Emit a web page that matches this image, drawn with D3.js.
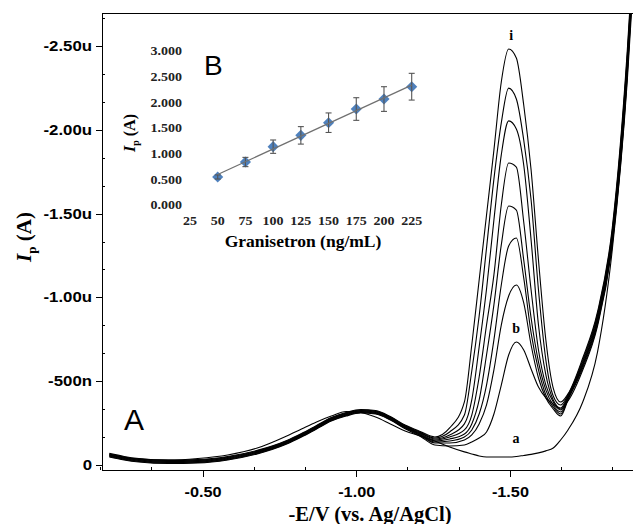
<!DOCTYPE html>
<html lang="en">
<head>
<meta charset="UTF-8" />
<title>DPV of granisetron</title>
<script src="https://d3js.org/d3.v7.min.js"></script>
<style>
    body { margin: 0; background: #fff; }
    .axis path, .axis line { fill: none; stroke: #000; shape-rendering: crispEdges; }
    .axis text { font-family: "Liberation Sans", Arial, sans-serif; font-weight: bold; font-size: 14px; fill: #000; }
    .curve { fill: none; stroke: #000; stroke-width: 1.1; }
    .serif { font-family: "Liberation Serif", "Times New Roman", serif; font-weight: bold; fill: #000; }
    .inset-tick { font-family: "Liberation Serif", "Times New Roman", serif; font-weight: bold; font-size: 12.5px; fill: #222; }
</style>
</head>
<body>
<script>
    // potential grid (V) and currents (uA) of voltammograms a..i
    var potentials = [-0.197, -0.245, -0.293, -0.389, -0.485, -0.582, -0.678, -0.774, -0.822, -0.871, -0.919, -0.967, -1.015, -1.063, -1.111, -1.159, -1.208,
        -1.256, -1.304, -1.352, -1.376, -1.400, -1.424, -1.448, -1.472, -1.496, -1.521, -1.545, -1.569, -1.593, -1.617, -1.641, -1.665, -1.689, -1.737, -1.785, -1.833, -1.882, -1.900];

    var currentA = [-0.060, -0.045, -0.036, -0.030, -0.039, -0.060, -0.101, -0.173, -0.215, -0.257, -0.292, -0.319, -0.313, -0.286, -0.245, -0.203, -0.173,
        -0.143, -0.107, -0.078, -0.066, -0.054, -0.048, -0.048, -0.048, -0.048, -0.051, -0.057, -0.063, -0.072, -0.084, -0.101, -0.149, -0.209, -0.376, -0.674, -1.283, -2.297, -2.834];
    var currentB = [-0.048, -0.030, -0.018, -0.009, -0.012, -0.030, -0.066, -0.125, -0.167, -0.215, -0.262, -0.292, -0.310, -0.304, -0.268, -0.216, -0.172,
        -0.119, -0.113, -0.119, -0.137, -0.161, -0.197, -0.304, -0.477, -0.656, -0.734, -0.686, -0.573, -0.465, -0.400, -0.364, -0.334, -0.382, -0.567, -0.829, -1.313, -2.327, -2.882];
    var currentC = [-0.051, -0.033, -0.021, -0.012, -0.015, -0.033, -0.069, -0.128, -0.170, -0.218, -0.265, -0.295, -0.313, -0.307, -0.271, -0.220, -0.177,
        -0.131, -0.131, -0.149, -0.179, -0.245, -0.358, -0.567, -0.835, -1.008, -1.074, -0.967, -0.716, -0.519, -0.400, -0.334, -0.292, -0.388, -0.579, -0.841, -1.325, -2.345, -2.894];
    var currentD = [-0.054, -0.036, -0.024, -0.015, -0.018, -0.036, -0.072, -0.131, -0.173, -0.221, -0.268, -0.298, -0.316, -0.310, -0.274, -0.223, -0.181,
        -0.137, -0.143, -0.167, -0.209, -0.304, -0.477, -0.746, -1.074, -1.307, -1.354, -1.116, -0.788, -0.567, -0.418, -0.346, -0.304, -0.394, -0.591, -0.853, -1.337, -2.357, -2.906];
    var currentE = [-0.057, -0.039, -0.027, -0.018, -0.021, -0.039, -0.075, -0.134, -0.176, -0.224, -0.271, -0.301, -0.319, -0.313, -0.277, -0.226, -0.185,
        -0.143, -0.155, -0.185, -0.245, -0.388, -0.656, -0.955, -1.313, -1.545, -1.521, -1.223, -0.877, -0.615, -0.447, -0.358, -0.316, -0.400, -0.597, -0.865, -1.348, -2.381, -2.924];
    var currentF = [-0.060, -0.042, -0.030, -0.021, -0.024, -0.042, -0.078, -0.137, -0.179, -0.227, -0.274, -0.304, -0.322, -0.316, -0.280, -0.229, -0.188,
        -0.149, -0.167, -0.209, -0.298, -0.525, -0.835, -1.134, -1.551, -1.802, -1.778, -1.450, -1.044, -0.686, -0.477, -0.376, -0.328, -0.406, -0.603, -0.877, -1.366, -2.405, -2.942];
    var currentG = [-0.063, -0.045, -0.033, -0.024, -0.027, -0.045, -0.081, -0.140, -0.182, -0.230, -0.277, -0.307, -0.325, -0.319, -0.283, -0.232, -0.192,
        -0.155, -0.179, -0.245, -0.388, -0.704, -1.050, -1.462, -1.850, -2.053, -2.005, -1.790, -1.342, -0.835, -0.537, -0.388, -0.340, -0.412, -0.615, -0.889, -1.384, -2.428, -2.953];
    var currentH = [-0.066, -0.048, -0.036, -0.027, -0.030, -0.048, -0.084, -0.143, -0.185, -0.233, -0.280, -0.310, -0.328, -0.322, -0.286, -0.235, -0.196,
        -0.161, -0.197, -0.298, -0.561, -0.889, -1.295, -1.706, -2.041, -2.249, -2.184, -1.939, -1.581, -1.044, -0.626, -0.412, -0.358, -0.418, -0.626, -0.901, -1.396, -2.446, -2.983];
    var currentI = [-0.069, -0.051, -0.039, -0.030, -0.033, -0.051, -0.087, -0.146, -0.188, -0.236, -0.283, -0.313, -0.331, -0.325, -0.289, -0.238, -0.200,
        -0.167, -0.221, -0.376, -0.716, -1.104, -1.492, -1.879, -2.285, -2.482, -2.428, -2.148, -1.760, -1.223, -0.746, -0.459, -0.376, -0.424, -0.638, -0.913, -1.414, -2.476, -3.013];

    var xTicks = [-0.5, -1.0, -1.5];
    var xTickLabels = ["-0.50", "-1.00", "-1.50"];
    var yTicks = [0, -0.5, -1.0, -1.5, -2.0, -2.5];
    var yTickLabels = ["0", "-500n", "-1.00u", "-1.50u", "-2.00u", "-2.50u"];

    // curve annotations: label, potential, current
    var curveNotes = [["i", -1.504, -2.533], ["b", -1.520, -0.787], ["a", -1.520, -0.133]];

    // inset B: calibration
    var concentrations = [50, 75, 100, 125, 150, 175, 200, 225];
    var peakCurrents = [0.545, 0.836, 1.134, 1.354, 1.600, 1.866, 2.060, 2.300];
    var peakErrors = [0.04, 0.09, 0.13, 0.17, 0.19, 0.22, 0.24, 0.26];
    var insetXTicks = [25, 50, 75, 100, 125, 150, 175, 200, 225];
    var insetYTicks = [0, 0.5, 1.0, 1.5, 2.0, 2.5, 3.0];

    var W = 633, H = 524;
    var plot = { left: 102, right: 633, top: 13, bottom: 470 };

    var svg = d3.select("body").append("svg")
        .attr("width", W)
        .attr("height", H);

    // the original figure is a little wider than its fonts
    function stretch(sel, k) {
        sel.each(function () {
            var n = this.getComputedTextLength();
            d3.select(this).attr("textLength", n * k).attr("lengthAdjust", "spacingAndGlyphs");
        });
    }

    var x = d3.scaleLinear().domain([-0.173, -1.9005]).range([plot.left, plot.right]);
    var y = d3.scaleLinear().domain([0.03, -2.697]).range([plot.bottom, plot.top]);

    svg.append("clipPath").attr("id", "clip")
        .append("rect")
        .attr("x", plot.left).attr("y", plot.top)
        .attr("width", plot.right - plot.left).attr("height", plot.bottom - plot.top);

    var curves = [currentA, currentB, currentC, currentD, currentE, currentF, currentG, currentH, currentI];

    var line = d3.line()
        .x(function (d, i) { return x(potentials[i]); })
        .y(function (d) { return y(d); })
        .curve(d3.curveMonotoneX);

    svg.append("g").attr("clip-path", "url(#clip)")
        .selectAll("path")
        .data(curves)
        .enter().append("path")
        .attr("class", "curve")
        .attr("d", line);

    // minor ticks (inside)
    var xMinor = d3.range(-1, -12, -1).map(function (k) { return k / 6; })
        .filter(function (v) { return v > -1.9 && Math.abs(v * 2 - Math.round(v * 2)) > 1e-6; });
    var yMinor = d3.range(1, 17).map(function (k) { return -k / 6; })
        .filter(function (v) { return Math.abs(v * 2 - Math.round(v * 2)) > 1e-6; });

    svg.append("g").attr("class", "axis")
        .attr("transform", "translate(0," + plot.bottom + ")")
        .call(d3.axisBottom(x).tickValues(xMinor).tickSize(-3).tickFormat(""))
        .call(function (g) { g.select(".domain").remove(); });

    svg.append("g").attr("class", "axis")
        .attr("transform", "translate(" + plot.left + ",0)")
        .call(d3.axisLeft(y).tickValues(yMinor).tickSize(-3).tickFormat(""))
        .call(function (g) { g.select(".domain").remove(); });

    var xAxis = svg.append("g").attr("class", "axis")
        .attr("transform", "translate(0," + plot.bottom + ")")
        .call(d3.axisBottom(x).tickValues(xTicks).tickSize(7).tickSizeOuter(0).tickPadding(10)
            .tickFormat(function (d, i) { return xTickLabels[i]; }));

    var yAxis = svg.append("g").attr("class", "axis")
        .attr("transform", "translate(" + plot.left + ",0)")
        .call(d3.axisLeft(y).tickValues(yTicks).tickSize(6).tickSizeOuter(0).tickPadding(4)
            .tickFormat(function (d, i) { return yTickLabels[i]; }));

    stretch(xAxis.selectAll("text"), 1.16);
    stretch(yAxis.selectAll("text"), 1.2);

    svg.append("line")
        .attr("x1", plot.left).attr("x2", plot.right)
        .attr("y1", plot.top + 0.5).attr("y2", plot.top + 0.5)
        .attr("stroke", "#000");

    // axis titles
    svg.append("text").attr("class", "serif")
        .attr("x", 370).attr("y", 521)
        .attr("text-anchor", "middle").attr("font-size", 20.5)
        .text("-E/V (vs. Ag/AgCl)");

    function ipLabel(g, size) {
        g.append("tspan").attr("font-style", "italic").text("I");
        g.append("tspan").attr("font-size", size * 0.62).attr("dy", size * 0.22).text("p");
        g.append("tspan").attr("dy", -size * 0.22).text(" (A)");
    }

    var yTitle = svg.append("text").attr("class", "serif")
        .attr("transform", "translate(31,237) rotate(-90)")
        .attr("text-anchor", "middle").attr("font-size", 21);
    ipLabel(yTitle, 21);

    svg.append("text")
        .attr("x", 124).attr("y", 430)
        .attr("font-family", "Liberation Sans, Arial, sans-serif")
        .attr("font-size", 30)
        .text("A");

    svg.selectAll(".note")
        .data(curveNotes)
        .enter().append("text")
        .attr("class", "serif note")
        .attr("x", function (d) { return x(d[1]); })
        .attr("y", function (d) { return y(d[2]); })
        .attr("text-anchor", "middle").attr("font-size", 14)
        .text(function (d) { return d[0]; });

    // ---- inset B ----
    var ix = d3.scaleLinear().domain([25, 225]).range([190, 411.7]);
    var iy = d3.scaleLinear().domain([0, 3]).range([205, 50.7]);

    var inset = svg.append("g");

    inset.selectAll(".iyt")
        .data(insetYTicks)
        .enter().append("text")
        .attr("class", "inset-tick iyt")
        .attr("x", 182).attr("y", function (d) { return iy(d); })
        .attr("dy", "0.35em").attr("text-anchor", "end")
        .text(d3.format(".3f"));

    inset.selectAll(".ixt")
        .data(insetXTicks)
        .enter().append("text")
        .attr("class", "inset-tick ixt")
        .attr("x", function (d) { return ix(d); }).attr("y", 225)
        .attr("text-anchor", "middle")
        .text(function (d) { return d; });

    stretch(inset.selectAll(".inset-tick"), 1.12);

    inset.selectAll(".pt")
        .data(concentrations)
        .enter().append("path")
        .attr("class", "pt")
        .attr("d", d3.symbol().type(d3.symbolSquare).size(62))
        .attr("fill", "#4f81bd")
        .attr("transform", function (d, i) {
            return "translate(" + ix(d) + "," + iy(peakCurrents[i]) + ") rotate(45)";
        });

    var bars = inset.selectAll(".err")
        .data(concentrations)
        .enter().append("g")
        .attr("stroke", "#555").attr("stroke-width", 1.1);
    bars.append("line")
        .attr("x1", function (d) { return ix(d); }).attr("x2", function (d) { return ix(d); })
        .attr("y1", function (d, i) { return iy(peakCurrents[i] - peakErrors[i]); })
        .attr("y2", function (d, i) { return iy(peakCurrents[i] + peakErrors[i]); });
    bars.append("line")
        .attr("x1", function (d) { return ix(d) - 3; }).attr("x2", function (d) { return ix(d) + 3; })
        .attr("y1", function (d, i) { return iy(peakCurrents[i] - peakErrors[i]); })
        .attr("y2", function (d, i) { return iy(peakCurrents[i] - peakErrors[i]); });
    bars.append("line")
        .attr("x1", function (d) { return ix(d) - 3; }).attr("x2", function (d) { return ix(d) + 3; })
        .attr("y1", function (d, i) { return iy(peakCurrents[i] + peakErrors[i]); })
        .attr("y2", function (d, i) { return iy(peakCurrents[i] + peakErrors[i]); });

    // least-squares trend line
    var mx = d3.mean(concentrations), my = d3.mean(peakCurrents);
    var sxy = d3.sum(concentrations, function (d, i) { return (d - mx) * (peakCurrents[i] - my); });
    var sxx = d3.sum(concentrations, function (d) { return (d - mx) * (d - mx); });
    var slope = sxy / sxx, icpt = my - slope * mx;
    var ends = d3.extent(concentrations);
    inset.append("line")
        .attr("x1", ix(ends[0])).attr("y1", iy(icpt + slope * ends[0]))
        .attr("x2", ix(ends[1])).attr("y2", iy(icpt + slope * ends[1]))
        .attr("stroke", "#707070").attr("stroke-width", 1.2);

    inset.append("text").attr("class", "serif")
        .attr("x", 303).attr("y", 247)
        .attr("text-anchor", "middle").attr("font-size", 17.5)
        .text("Granisetron (ng/mL)");

    var iyTitle = inset.append("text").attr("class", "serif")
        .attr("transform", "translate(135,133) rotate(-90)")
        .attr("text-anchor", "middle").attr("font-size", 16);
    ipLabel(iyTitle, 16);

    inset.append("text")
        .attr("x", 204).attr("y", 75)
        .attr("font-family", "Liberation Sans, Arial, sans-serif")
        .attr("font-size", 28)
        .text("B");
</script>
</body>
</html>
